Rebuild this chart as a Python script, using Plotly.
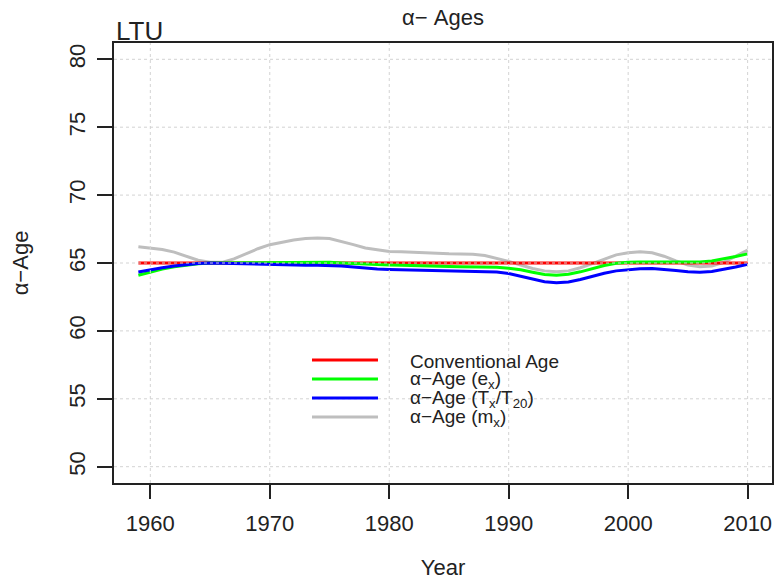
import plotly.graph_objects as go

years = list(range(1959, 2011))

conventional = [65.0] * len(years)

alpha_ex = [64.10, 64.35, 64.55, 64.72, 64.85, 64.95, 65.00, 65.02, 65.02, 65.02,
            65.02, 65.02, 65.03, 65.05, 65.06, 65.06, 65.05, 65.00, 64.95, 64.90,
            64.87, 64.85, 64.83, 64.82, 64.82, 64.80, 64.75, 64.73, 64.73, 64.72,
            64.68, 64.62, 64.50, 64.32, 64.15, 64.10, 64.18, 64.35, 64.60, 64.82,
            64.98, 65.06, 65.08, 65.08, 65.06, 65.05, 65.05, 65.08, 65.15, 65.30,
            65.48, 65.67]

alpha_tx = [64.33, 64.50, 64.65, 64.78, 64.90, 64.97, 65.00, 64.98, 64.94, 64.90,
            64.87, 64.85, 64.84, 64.84, 64.84, 64.84, 64.82, 64.78, 64.70, 64.62,
            64.56, 64.52, 64.50, 64.48, 64.47, 64.45, 64.42, 64.42, 64.42, 64.40,
            64.33, 64.22, 64.02, 63.80, 63.62, 63.55, 63.60, 63.78, 64.02, 64.25,
            64.42, 64.52, 64.58, 64.60, 64.55, 64.45, 64.35, 64.32, 64.38, 64.52,
            64.70, 64.90]

alpha_mx = [66.20, 66.10, 66.00, 65.80, 65.50, 65.20, 65.05, 65.05, 65.30, 65.70,
            66.05, 66.35, 66.55, 66.70, 66.80, 66.85, 66.80, 66.60, 66.35, 66.10,
            65.95, 65.85, 65.82, 65.80, 65.75, 65.72, 65.68, 65.67, 65.65, 65.55,
            65.35, 65.12, 64.85, 64.60, 64.42, 64.35, 64.42, 64.65, 64.95, 65.30,
            65.60, 65.75, 65.82, 65.75, 65.50, 65.15, 64.85, 64.72, 64.78, 65.05,
            65.50, 65.95]

series_names = ["Conventional Age", "α−Age (e<sub>x</sub>)",
                "α−Age (T<sub>x</sub>/T<sub>20</sub>)", "α−Age (m<sub>x</sub>)"]
series_colors = ["#FF0000", "#00FF00", "#0000FF", "#BEBEBE"]

x_ticks = [1960, 1970, 1980, 1990, 2000, 2010]
y_ticks = [50, 55, 60, 65, 70, 75, 80]

FONT = "Liberation Sans, Arial, sans-serif"
TXT = "#222222"

fig = go.Figure()
# drawing order: grey first, then red, green, blue on top
draw = [(alpha_mx, 3), (conventional, 0), (alpha_ex, 1), (alpha_tx, 2)]
for vals, i in draw:
    fig.add_trace(go.Scatter(x=years, y=vals, mode="lines", name=series_names[i],
                             line=dict(color=series_colors[i], width=3),
                             showlegend=False))

# dotted grid drawn above the lines (as in the reference)
shapes = []
for xv in x_ticks:
    shapes.append(dict(type="line", xref="x", yref="paper", x0=xv, x1=xv, y0=0, y1=1,
                       line=dict(color="#D3D3D3", width=1, dash="dot"), layer="above"))
for yv in y_ticks:
    shapes.append(dict(type="line", xref="paper", yref="y", x0=0, x1=1, y0=yv, y1=yv,
                       line=dict(color="#D3D3D3", width=1, dash="dot"), layer="above"))

# R-style legend (compact rows) drawn in paper coordinates
annotations = []
leg_rows = [0.2795, 0.2364, 0.1932, 0.15]
for i, yrow in enumerate(leg_rows):
    shapes.append(dict(type="line", xref="paper", yref="paper", x0=0.3009, x1=0.4012,
                       y0=yrow, y1=yrow, line=dict(color=series_colors[i], width=3),
                       layer="above"))
    annotations.append(dict(text=series_names[i], xref="paper", yref="paper",
                            x=0.4468, y=yrow, xanchor="left", yanchor="middle",
                            showarrow=False, yshift=-1,
                            font=dict(size=19, color=TXT)))

annotations.append(dict(text="LTU", xref="paper", yref="paper", x=0, y=(483 - 31) / 440,
                        xanchor="left", yanchor="middle", showarrow=False,
                        font=dict(size=26, color=TXT)))

fig.update_layout(
    width=782, height=582,
    margin=dict(l=114, r=10, t=43, b=99),
    paper_bgcolor="white", plot_bgcolor="white",
    font=dict(family=FONT, color=TXT, size=22),
    title=dict(text="α− Ages", x=0.5, xref="paper", xanchor="center",
               y=1 - 17 / 582, yanchor="middle", font=dict(size=22, color=TXT)),
    shapes=shapes,
    annotations=annotations,
    showlegend=False,
)

fig.update_xaxes(range=[1956.96, 2012.04], tickvals=x_ticks, ticks="outside", ticklen=14,
                 tickwidth=2, tickcolor=TXT, showgrid=False, zeroline=False,
                 showline=True, linecolor=TXT, linewidth=2, mirror=True,
                 tickfont=dict(size=22), ticklabelstandoff=6,
                 title=dict(text="Year", font=dict(size=22), standoff=24),
                 automargin=False)
fig.update_yaxes(range=[48.8, 81.2], tickvals=y_ticks, ticks="outside", ticklen=15,
                 tickwidth=2, tickcolor=TXT, showgrid=False, zeroline=False,
                 showline=True, linecolor=TXT, linewidth=2, mirror=True,
                 tickangle=-90, tickfont=dict(size=22), ticklabelstandoff=3,
                 title=dict(text="α−Age", font=dict(size=22), standoff=31),
                 automargin=False)

fig.write_html("out.html", config={"displayModeBar": False},
               post_script="document.body.style.margin='0';document.body.style.overflow='hidden';")
